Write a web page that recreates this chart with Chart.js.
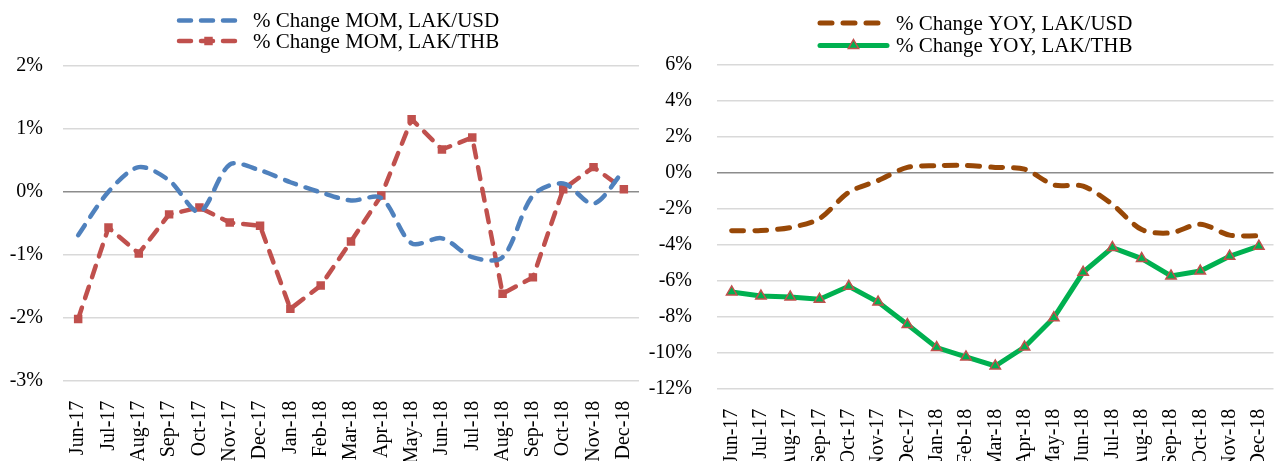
<!DOCTYPE html>
<html lang="en">
<head>
<meta charset="UTF-8">
<title>LAK exchange rate % change, MOM and YOY</title>
<script src="https://cdn.jsdelivr.net/npm/chart.js"></script>
<style>
  html, body { margin: 0; padding: 0; background: #fff; overflow: hidden; }
  body { width: 1274px; height: 461px; position: relative; }
  #momChart { position: absolute; left: 0; top: 0; }
  #yoyChart { position: absolute; left: 645px; top: 0; }
</style>
</head>
<body>
<canvas id="momChart" width="645" height="461"></canvas>
<canvas id="yoyChart" width="636" height="470"></canvas>
<script>
const months = ['Jun-17', 'Jul-17', 'Aug-17', 'Sep-17', 'Oct-17', 'Nov-17', 'Dec-17',
                'Jan-18', 'Feb-18', 'Mar-18', 'Apr-18', 'May-18', 'Jun-18', 'Jul-18',
                'Aug-18', 'Sep-18', 'Oct-18', 'Nov-18', 'Dec-18'];

// % change month on month
const momUsd = [-0.69, 0.0, 0.39, 0.18, -0.32, 0.43, 0.34, 0.15, -0.01, -0.14, -0.10, -0.82,
                -0.74, -1.04, -1.04, -0.06, 0.13, -0.19, 0.34];
const momThb = [-2.02, -0.57, -0.98, -0.36, -0.25, -0.49, -0.54, -1.86, -1.49, -0.79, -0.06, 1.15,
                0.67, 0.86, -1.62, -1.36, 0.04, 0.39, 0.04];

// % change year on year
const yoyUsd = [-3.24, -3.22, -3.06, -2.56, -1.10, -0.45, 0.28, 0.37, 0.39, 0.28, 0.18, -0.69,
                -0.76, -1.78, -3.17, -3.35, -2.87, -3.48, -3.52];
const yoyThb = [-6.63, -6.86, -6.91, -7.04, -6.32, -7.19, -8.44, -9.72, -10.24, -10.74, -9.69, -8.06,
                -5.54, -4.17, -4.78, -5.74, -5.47, -4.65, -4.09];

const momTicks = { min: -3, max: 2, step: 1 };
const yoyTicks = { min: -12, max: 6, step: 2 };

const serif = "'Liberation Serif', 'Times New Roman', serif";
const tickFont = { family: serif, size: 20 };

// Excel style legend: line sample (with its marker) then the label
function lineLegend(items) {
    return {
        id: 'lineLegend',
        afterDraw(chart) {
            const ctx = chart.ctx;
            items.forEach(it => {
                const ds = chart.data.datasets[it.index];
                ctx.save();
                ctx.strokeStyle = ds.borderColor;
                ctx.lineWidth = ds.borderWidth;
                ctx.lineCap = 'round';
                ctx.setLineDash(ds.borderDash || []);
                ctx.beginPath();
                ctx.moveTo(it.x1, it.y);
                ctx.lineTo(it.x2, it.y);
                ctx.stroke();
                ctx.setLineDash([]);
                if (ds.pointRadius > 0) {
                    ctx.fillStyle = ds.pointBackgroundColor;
                    ctx.strokeStyle = ds.pointBorderColor;
                    ctx.lineWidth = ds.pointBorderWidth;
                    Chart.helpers.drawPoint(ctx, {
                        pointStyle: ds.pointStyle,
                        radius: ds.pointRadius,
                        rotation: 0,
                        borderWidth: ds.pointBorderWidth
                    }, (it.x1 + it.x2) / 2, it.y);
                }
                ctx.fillStyle = '#000';
                ctx.font = '21px ' + serif;
                ctx.textBaseline = 'middle';
                ctx.fillText(ds.label, it.tx, it.y + 1);
                ctx.restore();
            });
        }
    };
}

function makeScales(t, yWidth, yPad, xHeight) {
    return {
        x: {
            offset: true,
            grid: { display: false },
            border: { display: false },
            ticks: { font: tickFont, color: '#000', minRotation: 90, maxRotation: 90, autoSkip: false, padding: 12 },
            afterFit: s => {
                s.height = xHeight;
                // the plot runs to the canvas edge, as in the original
                s.paddingLeft = 0;
                s.paddingRight = 0;
            }
        },
        y: {
            min: t.min,
            max: t.max,
            grid: {
                color: c => c.tick.value === 0 ? '#8c8c8c' : '#d9d9d9',
                lineWidth: 1.5,
                drawTicks: false
            },
            border: { display: false },
            ticks: { stepSize: t.step, padding: yPad, font: tickFont, color: '#000', callback: v => v + '%' },
            afterFit: s => { s.width = yWidth; }
        }
    };
}

new Chart(document.getElementById('momChart'), {
    type: 'line',
    data: {
        labels: months,
        datasets: [{
            label: '% Change MOM, LAK/USD',
            data: momUsd,
            borderColor: '#4f81bd',
            borderWidth: 4.5,
            borderDash: [12, 10],
            borderCapStyle: 'round',
            tension: 0.3,
            pointRadius: 0
        }, {
            label: '% Change MOM, LAK/THB',
            data: momThb,
            borderColor: '#c0504d',
            borderWidth: 4.5,
            borderDash: [12, 10],
            borderCapStyle: 'round',
            tension: 0,
            pointStyle: 'rect',
            pointRadius: 6,
            pointBackgroundColor: '#c0504d',
            pointBorderColor: '#c0504d',
            pointBorderWidth: 0
        }]
    },
    options: {
        responsive: false,
        animation: false,
        layout: { padding: { top: 65.7, right: 2, left: 0, bottom: 0 } },
        plugins: { legend: { display: false }, tooltip: { enabled: false } },
        scales: makeScales(momTicks, 63, 20, 80.3)
    },
    plugins: [lineLegend([
        { index: 0, x1: 179, x2: 238, y: 20.5, tx: 253 },
        { index: 1, x1: 179, x2: 238, y: 41, tx: 253 }
    ])]
});

new Chart(document.getElementById('yoyChart'), {
    type: 'line',
    data: {
        labels: months,
        datasets: [{
            label: '% Change YOY, LAK/USD',
            data: yoyUsd,
            borderColor: '#984807',
            borderWidth: 5,
            borderDash: [12, 11],
            borderCapStyle: 'round',
            tension: 0.3,
            pointRadius: 0
        }, {
            label: '% Change YOY, LAK/THB',
            data: yoyThb,
            borderColor: '#00b050',
            borderWidth: 5,
            tension: 0,
            pointStyle: 'triangle',
            pointRadius: 6,
            pointBackgroundColor: '#00b050',
            pointBorderColor: '#c0504d',
            pointBorderWidth: 1.5
        }]
    },
    options: {
        responsive: false,
        animation: false,
        layout: { padding: { top: 64.3, right: 2, left: 0, bottom: 0 } },
        plugins: { legend: { display: false }, tooltip: { enabled: false } },
        scales: makeScales(yoyTicks, 72, 25, 81.3)
    },
    plugins: [lineLegend([
        { index: 0, x1: 175, x2: 242, y: 23, tx: 251 },
        { index: 1, x1: 175, x2: 242, y: 45.5, tx: 251 }
    ])]
});
</script>
</body>
</html>
